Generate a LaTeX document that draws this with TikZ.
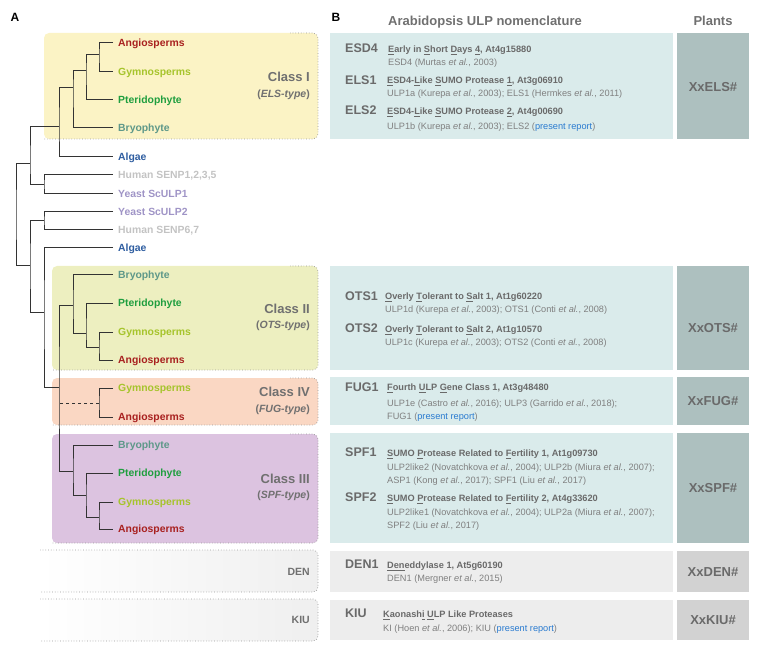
\documentclass[tikz,border=0pt]{standalone}
\usepackage{fontspec}
\setmainfont{Liberation Sans}
\usetikzlibrary{calc}

\definecolor{angio}{HTML}{A8201F}
\definecolor{gymno}{HTML}{A6C42C}
\definecolor{pterido}{HTML}{1F9E3F}
\definecolor{bryo}{HTML}{5E9889}
\definecolor{algae}{HTML}{2E5DA0}
\definecolor{human}{HTML}{C3C3C3}
\definecolor{yeast}{HTML}{9F94C6}
\definecolor{boxone}{HTML}{FBF3C5}
\definecolor{boxtwo}{HTML}{EDEFC0}
\definecolor{boxfour}{HTML}{FAD7C3}
\definecolor{boxthree}{HTML}{DCC3E0}
\definecolor{boxgrey}{HTML}{EFEFEF}
\definecolor{panelteal}{HTML}{DAEBEB}
\definecolor{plantteal}{HTML}{ADC0BF}
\definecolor{panelgrey}{HTML}{EDEDED}
\definecolor{plantgrey}{HTML}{D2D2D2}
\definecolor{labelgrey}{HTML}{707070}
\definecolor{namegrey}{HTML}{6A6A6A}
\definecolor{detgrey}{HTML}{808080}
\definecolor{linkblue}{HTML}{2A7BD0}

\newcommand{\ulet}[1]{\underline{#1}}
\newcommand{\etal}{\textit{et al.}}

\tikzset{
  leaf/.style      = {anchor=west, inner xsep=5pt, inner ysep=0pt,
                      text height=7.4pt, text depth=0pt,
                      font=\fontsize{10.4}{12}\selectfont\bfseries},
  branch/.style    = {draw=black!80, line width=1pt},
  rim/.style       = {draw=black!40, dotted, line width=0.7pt, rounded corners=5pt},
  classlbl/.style  = {anchor=east, inner sep=0pt, text=labelgrey,
                      text height=9.3pt, text depth=0pt,
                      font=\fontsize{13}{15}\selectfont\bfseries},
  typelbl/.style   = {anchor=east, inner sep=0pt, text=labelgrey,
                      text height=7.5pt, text depth=0pt,
                      font=\fontsize{10.5}{12}\selectfont\bfseries},
  header/.style    = {inner sep=0pt, text=labelgrey, text height=9.3pt, text depth=0pt,
                      font=\fontsize{13}{15}\selectfont\bfseries},
  gene/.style      = {anchor=west, inner sep=0pt, text=namegrey,
                      text height=9pt, text depth=0pt,
                      font=\fontsize{12.5}{14}\selectfont\bfseries},
  genesub/.style   = {anchor=west, inner sep=0pt, text=namegrey,
                      text height=6.6pt, text depth=0pt,
                      font=\fontsize{9.2}{11}\selectfont\bfseries},
  genedet/.style   = {anchor=west, inner sep=0pt, text=detgrey,
                      text height=6.6pt, text depth=0pt,
                      font=\fontsize{9.2}{11}\selectfont},
  plantlbl/.style  = {inner sep=0pt, text=namegrey, text height=9.3pt, text depth=0pt,
                      font=\fontsize{13}{15}\selectfont\bfseries},
  panel/.style     = {fill=panelteal},
  plantcol/.style  = {fill=plantteal}
}

\begin{document}
\begin{tikzpicture}[x=1pt, y=-1pt]
  \useasboundingbox (0,0) rectangle (760,652);

  % class boxes behind the tree
  \fill[boxone, rounded corners=5pt] (44,33) rectangle (318,139);
  \draw[rim] (290,33) -- (318,33) -- (318,139) -- (44,139);
  \fill[boxtwo, rounded corners=5pt] (52,266) rectangle (318,370);
  \draw[rim] (290,266) -- (318,266) -- (318,370) -- (52,370);
  \fill[boxfour, rounded corners=5pt] (52,378) rectangle (318,425);
  \draw[rim] (290,378) -- (318,378) -- (318,425) -- (52,425);
  \fill[boxthree, rounded corners=5pt] (52,434) rectangle (318,543);
  \draw[rim] (290,434) -- (318,434) -- (318,543) -- (52,543);
  \shade[left color=white, right color=boxgrey, rounded corners=5pt] (40,550) rectangle (318,592);
  \draw[rim] (40,550) -- (318,550) -- (318,592) -- (40,592);
  \shade[left color=white, right color=boxgrey, rounded corners=5pt] (40,599) rectangle (318,641);
  \draw[rim] (40,599) -- (318,599) -- (318,641) -- (40,641);

  \node[font=\fontsize{12}{14}\selectfont\bfseries] (lblA) at (15,17) {A};
  \node[font=\fontsize{12}{14}\selectfont\bfseries] (lblB) at (336,17) {B};

  % leaves
  \node[leaf, text=angio]   (angI)   at (113,43)  {Angiosperms};
  \node[leaf, text=gymno]   (gymI)   at (113,72)  {Gymnosperms};
  \node[leaf, text=pterido] (pteI)   at (113,100) {Pteridophyte};
  \node[leaf, text=bryo]    (bryI)   at (113,128) {Bryophyte};
  \node[leaf, text=algae]   (algI)   at (113,157) {Algae};
  \node[leaf, text=human]   (senA)   at (113,175) {Human SENP1,2,3,5};
  \node[leaf, text=yeast]   (yulA)   at (113,194) {Yeast ScULP1};
  \node[leaf, text=yeast]   (yulB)   at (113,212) {Yeast ScULP2};
  \node[leaf, text=human]   (senB)   at (113,230) {Human SENP6,7};
  \node[leaf, text=algae]   (algII)  at (113,248) {Algae};
  \node[leaf, text=bryo]    (bryII)  at (113,275) {Bryophyte};
  \node[leaf, text=pterido] (pteII)  at (113,303) {Pteridophyte};
  \node[leaf, text=gymno]   (gymII)  at (113,332) {Gymnosperms};
  \node[leaf, text=angio]   (angII)  at (113,360) {Angiosperms};
  \node[leaf, text=gymno]   (gymIV)  at (113,388) {Gymnosperms};
  \node[leaf, text=angio]   (angIV)  at (113,417) {Angiosperms};
  \node[leaf, text=bryo]    (bryIII) at (113,445) {Bryophyte};
  \node[leaf, text=pterido] (pteIII) at (113,473) {Pteridophyte};
  \node[leaf, text=gymno]   (gymIII) at (113,502) {Gymnosperms};
  \node[leaf, text=angio]   (angIII) at (113,529) {Angiosperms};

  % inner nodes of the tree
  \coordinate (iA) at (99,55);
  \coordinate (iB) at (86,71);
  \coordinate (iC) at (73,88);
  \coordinate (iD) at (59,127);
  \coordinate (iS1) at (44,185);
  \coordinate (iE) at (30,164);
  \coordinate (iS2) at (44,221);
  \coordinate (iF) at (44,312);
  \coordinate (iH) at (30,266);
  \coordinate (root) at (16,215);
  \coordinate (iG) at (59,387);
  \coordinate (c2a) at (73,305);
  \coordinate (c2b) at (86,333);
  \coordinate (c2c) at (99,347);
  \coordinate (c4a) at (99,403);
  \coordinate (c3a) at (73,471);
  \coordinate (c3b) at (86,495);
  \coordinate (c3c) at (99,517);

  \draw[branch] (angI.west) -| (iA) |- (gymI.west);
  \draw[branch] (iA) -| (iB) |- (pteI.west);
  \draw[branch] (iB) -| (iC) |- (bryI.west);
  \draw[branch] (iC) -| (iD) |- (algI.west);
  \draw[branch] (senA.west) -| (iS1) |- (yulA.west);
  \draw[branch] (iD) -| (iE) |- (iS1);
  \draw[branch] (yulB.west) -| (iS2) |- (senB.west);
  \draw[branch] (algII.west) -| (iF) |- (iG);
  \draw[branch] (iS2) -| (iH) |- (iF);
  \draw[branch] (iE) -| (root) |- (iH);
  \draw[branch] (c2a) -| (iG) |- (c3a);
  \draw[branch] (bryII.west) -| (c2a) |- (c2b);
  \draw[branch] (pteII.west) -| (c2b) |- (c2c);
  \draw[branch] (gymII.west) -| (c2c) |- (angII.west);
  \draw[branch] (gymIV.west) -| (c4a) |- (angIV.west);
  \draw[branch, dashed] (c4a) -- (c4a -| iG);
  \draw[branch] (bryIII.west) -| (c3a) |- (c3b);
  \draw[branch] (pteIII.west) -| (c3b) |- (c3c);
  \draw[branch] (gymIII.west) -| (c3c) |- (angIII.west);

  % class names
  \node[classlbl] (clsI)   at (310,77)  {Class I};
  \node[typelbl]  (typI)   at (310,94)  {(\textit{ELS-type})};
  \node[classlbl] (clsII)  at (310,309) {Class II};
  \node[typelbl]  (typII)  at (310,325) {(\textit{OTS-type})};
  \node[classlbl] (clsIV)  at (310,392) {Class IV};
  \node[typelbl]  (typIV)  at (310,409) {(\textit{FUG-type})};
  \node[classlbl] (clsIII) at (310,479) {Class III};
  \node[typelbl]  (typIII) at (310,495) {(\textit{SPF-type})};
  \node[typelbl]  (clsDEN) at (310,572) {DEN};
  \node[typelbl]  (clsKIU) at (310,620) {KIU};

  % panel B
  \node[header] (hdNom) at (485,21) {Arabidopsis ULP nomenclature};
  \node[header] (hdPl)  at (713,21) {Plants};

  \fill[panel] (330,33) rectangle (673,139);
  \fill[plantcol] (677,33) rectangle (749,139);
  \fill[panel] (330,266) rectangle (673,370);
  \fill[plantcol] (677,266) rectangle (749,370);
  \fill[panel] (330,377) rectangle (673,425);
  \fill[plantcol] (677,377) rectangle (749,425);
  \fill[panel] (330,433) rectangle (673,543);
  \fill[plantcol] (677,433) rectangle (749,543);
  \fill[panelgrey] (330,551) rectangle (673,592);
  \fill[plantgrey] (677,551) rectangle (749,592);
  \fill[panelgrey] (330,600) rectangle (673,640);
  \fill[plantgrey] (677,600) rectangle (749,640);

  \node[gene]    (esd4)  at (345,48)  {ESD4};
  \node[genesub] (esd4s) at (388,49.5) {\ulet{E}arly in \ulet{S}hort \ulet{D}ays \ulet{4}, At4g15880};
  \node[genedet] (esd4d) at (388,62.5) {ESD4 (Murtas \etal, 2003)};
  \node[gene]    (els1)  at (345,80)  {ELS1};
  \node[genesub] (els1s) at (387,80.7) {\ulet{E}SD4-\ulet{L}ike \ulet{S}UMO Protease \ulet{1}, At3g06910};
  \node[genedet] (els1d) at (387,93.5) {ULP1a (Kurepa \etal, 2003); ELS1 (Hermkes \etal, 2011)};
  \node[gene]    (els2)  at (345,110.5) {ELS2};
  \node[genesub] (els2s) at (387,111.7) {\ulet{E}SD4-\ulet{L}ike \ulet{S}UMO Protease \ulet{2}, At4g00690};
  \node[genedet] (els2d) at (387,126) {ULP1b (Kurepa \etal, 2003); ELS2 (\textcolor{linkblue}{present report})};
  \node[plantlbl] (xels) at (713,87) {XxELS\#};

  \node[gene]    (ots1)  at (345,296) {OTS1};
  \node[genesub] (ots1s) at (385,296.5) {\ulet{O}verly \ulet{T}olerant to \ulet{S}alt 1, At1g60220};
  \node[genedet] (ots1d) at (385,309.5) {ULP1d (Kurepa \etal, 2003); OTS1 (Conti \etal, 2008)};
  \node[gene]    (ots2)  at (345,328) {OTS2};
  \node[genesub] (ots2s) at (385,329) {\ulet{O}verly \ulet{T}olerant to \ulet{S}alt 2, At1g10570};
  \node[genedet] (ots2d) at (385,342) {ULP1c (Kurepa \etal, 2003); OTS2 (Conti \etal, 2008)};
  \node[plantlbl] (xots) at (713,328) {XxOTS\#};

  \node[gene]    (fug1)  at (345,387) {FUG1};
  \node[genesub] (fug1s) at (387,387.5) {\ulet{F}ourth \ulet{U}LP \ulet{G}ene Class 1, At3g48480};
  \node[genedet] (fug1d) at (387,403) {ULP1e (Castro \etal, 2016); ULP3 (Garrido \etal, 2018);};
  \node[genedet] (fug1e) at (387,416) {FUG1 (\textcolor{linkblue}{present report})};
  \node[plantlbl] (xfug) at (713,401) {XxFUG\#};

  \node[gene]    (spf1)  at (345,452) {SPF1};
  \node[genesub] (spf1s) at (387,453) {\ulet{S}UMO \ulet{P}rotease Related to \ulet{F}ertility 1, At1g09730};
  \node[genedet] (spf1d) at (387,467) {ULP2like2 (Novatchkova \etal, 2004); ULP2b (Miura \etal, 2007);};
  \node[genedet] (spf1e) at (387,480) {ASP1 (Kong \etal, 2017); SPF1 (Liu \etal, 2017)};
  \node[gene]    (spf2)  at (345,497) {SPF2};
  \node[genesub] (spf2s) at (387,498) {\ulet{S}UMO \ulet{P}rotease Related to \ulet{F}ertility 2, At4g33620};
  \node[genedet] (spf2d) at (387,512) {ULP2like1 (Novatchkova \etal, 2004); ULP2a (Miura \etal, 2007);};
  \node[genedet] (spf2e) at (387,525) {SPF2 (Liu \etal, 2017)};
  \node[plantlbl] (xspf) at (713,488) {XxSPF\#};

  \node[gene]    (den1)  at (345,564) {DEN1};
  \node[genesub] (den1s) at (387,565) {\ulet{Den}eddylase 1, At5g60190};
  \node[genedet] (den1d) at (387,578) {DEN1 (Mergner \etal, 2015)};
  \node[plantlbl] (xden) at (713,572) {XxDEN\#};

  \node[gene]    (kiu)   at (345,613) {KIU};
  \node[genesub] (kius)  at (383,614) {\ulet{K}aonash\ulet{i} \ulet{U}LP Like Proteases};
  \node[genedet] (kiud)  at (383,628) {KI (Hoen \etal, 2006); KIU (\textcolor{linkblue}{present report})};
  \node[plantlbl] (xkiu) at (713,620) {XxKIU\#};
\end{tikzpicture}
\end{document}
